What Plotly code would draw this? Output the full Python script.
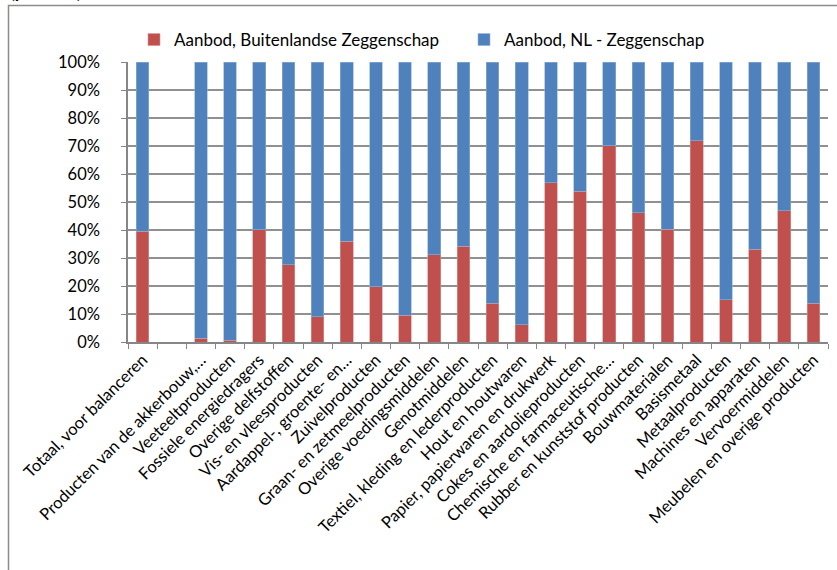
import plotly.graph_objects as go

# categories (one blank slot after the total, as in the original)
categories = [
    "Totaal, voor balanceren", " ", "Producten van de akkerbouw,…",
    "Veeteeltproducten", "Fossiele energiedragers", "Overige delfstoffen",
    "Vis- en vleesproducten", "Aardappel-, groente- en…", "Zuivelproducten",
    "Graan- en zetmeelproducten", "Overige voedingsmiddelen", "Genotmiddelen",
    "Textiel, kleding en lederproducten", "Hout en houtwaren",
    "Papier, papierwaren en drukwerk", "Cokes en aardolieproducten",
    "Chemische en farmaceutische…", "Rubber en kunststof producten",
    "Bouwmaterialen", "Basismetaal", "Metaalproducten", "Machines en apparaten",
    "Vervoermiddelen", "Meubelen en overige producten",
]

# share foreign control (%)
buitenlands = [39.5, None, 1.3, 0.7, 40.1, 27.6, 9.1, 35.9, 19.8, 9.5, 31.2, 34.2,
               13.8, 6.1, 56.9, 53.9, 70.1, 46.1, 40.2, 71.9, 15.1, 33.1, 46.8, 13.9]
# share Dutch control (%)
nl = [60.5, None, 98.7, 99.3, 59.9, 72.4, 90.9, 64.1, 80.2, 90.5, 68.8, 65.8,
      86.2, 93.9, 43.1, 46.1, 29.9, 53.9, 59.8, 28.1, 84.9, 66.9, 53.2, 86.1]

FONT = "Lato"

fig = go.Figure()
fig.add_trace(go.Bar(x=categories, y=[None if v is None else v / 100 for v in buitenlands],
                     name="Aanbod, Buitenlandse Zeggenschap",
                     marker=dict(color="#C0504D", line=dict(color="#D99694", width=0.6))))
fig.add_trace(go.Bar(x=categories, y=[None if v is None else v / 100 for v in nl],
                     name="Aanbod, NL - Zeggenschap",
                     marker=dict(color="#4F81BD", line=dict(color="#95B3D7", width=0.6))))

# plot area: x 128..828, y 62..342 px
L, R, T, B = 128, 9, 62, 228
W, H = 837, 570
pw, ph = W - L - R, H - T - B

def px(x):
    return (x - L) / pw

def py(y):
    return (H - B - y) / ph

fig.update_layout(
    width=W, height=H,
    margin=dict(l=L, r=R, t=T, b=B, autoexpand=False),
    barmode="stack", bargap=0.57,
    plot_bgcolor="white", paper_bgcolor="white",
    font=dict(family=FONT, size=15, color="#000000"),
    legend=dict(orientation="h", x=px(134), y=py(40), xanchor="left", yanchor="middle",
                traceorder="normal",
                font=dict(size=17), entrywidth=285, entrywidthmode="pixels",
                bgcolor="rgba(0,0,0,0)"),
    showlegend=True,
)
fig.update_yaxes(range=[0, 1], dtick=0.1, tickformat=".0%",
                 showgrid=True, gridcolor="#909090", gridwidth=1.5,
                 showline=True, linecolor="#868686", linewidth=1.5,
                 ticks="outside", ticklen=5, tickcolor="#868686",
                 ticklabelstandoff=18, tickfont=dict(size=16.5), zeroline=False)
fig.update_xaxes(tickangle=-45, tickson="boundaries", ticks="outside", ticklen=5,
                 tickcolor="#868686", showline=True, linecolor="#868686", linewidth=1.5,
                 tickfont=dict(size=16.5), showgrid=False)

# outer chart frame (cropped)
fig.add_shape(type="rect", xref="paper", yref="paper",
              x0=px(8.5), x1=px(900), y0=py(700), y1=py(5.5),
              line=dict(color="#8C8C8C", width=1.5), layer="below")
# cropped title at the very top
fig.add_annotation(text="<b>(procent)</b>", xref="paper", yref="paper",
                   x=px(8), y=py(-9), xanchor="left", yanchor="middle",
                   showarrow=False, font=dict(size=18))

# drop the default page margin so the figure sits at the window's corner
fig.write_html("out.html", config={"displayModeBar": False},
               post_script="document.body.style.margin='0';document.body.style.overflow='hidden';")
